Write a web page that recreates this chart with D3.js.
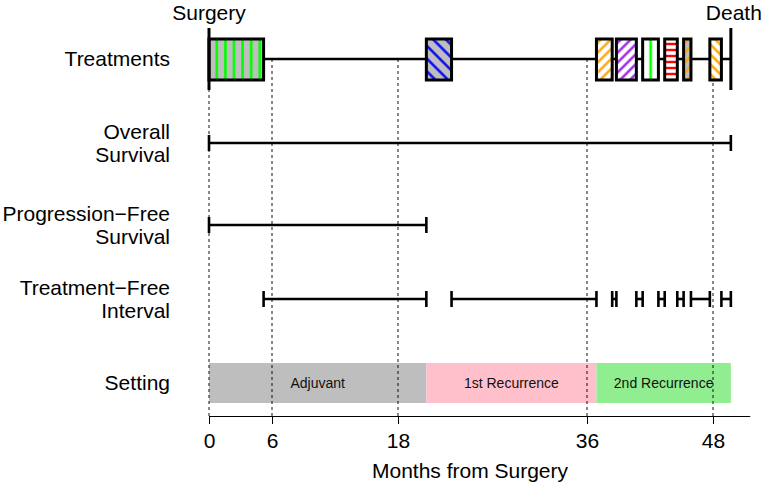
<!DOCTYPE html>
<html><head><meta charset="utf-8">
<script src="https://cdn.jsdelivr.net/npm/d3@7"></script>
<style>body{margin:0;background:#fff}svg{display:block}text{font-family:"Liberation Sans",Arial,sans-serif}</style>
</head><body><svg id="c" width="764" height="490"></svg>
<script>
// ---------------- data ----------------
const tickValues = [0, 6, 18, 36, 48];
const rowLabels = [["Treatments"], ["Overall", "Survival"], ["Progression\u2212Free", "Survival"], ["Treatment\u2212Free", "Interval"], ["Setting"]];
const deathMonth = 49.7;
const treatStart = [0, 20.7, 36.9, 38.8, 41.3, 43.4, 45.2, 47.7];
const treatEnd   = [5.2, 23.1, 38.4, 40.7, 42.8, 44.6, 45.9, 48.8];
const osInterval = [0, 49.7];
const pfsInterval = [0, 20.7];
const tfiStart = [5.2, 23.1, 38.4, 40.7, 42.8, 44.6, 45.9, 48.8];
const tfiEnd   = [20.7, 36.9, 38.8, 41.3, 43.4, 45.2, 47.7, 49.7];
const settingNames = ["Adjuvant", "1st Recurrence", "2nd Recurrence"];
const settingStart = [0, 20.7, 36.9];
const settingEnd   = [20.7, 36.9, 49.7];

// ---------------- styles ----------------
const treatStyle = [
  {fill: "#bebebe", color: "#00ff00", angle: 0,   sp: 8.6, w: 2.6, off: 3.5},
  {fill: "#bebebe", color: "#0000ff", angle: -45, sp: 9,   w: 2.4, off: 0},
  {fill: "#ffffff", color: "#ffa500", angle: 45,  sp: 7,   w: 2.4, off: 0},
  {fill: "#ffffff", color: "#a020f0", angle: 45,  sp: 7,   w: 2.4, off: 0},
  {fill: "#ffffff", color: "#00ff00", angle: 0,   sp: 30,  w: 2.6, off: -7},
  {fill: "#ffffff", color: "#ff0000", angle: 90,  sp: 6,   w: 2.4, off: 2},
  {fill: "#bebebe", color: "#ffa500", angle: 45,  sp: 7,   w: 2.4, off: 0},
  {fill: "#ffffff", color: "#ffa500", angle: -45, sp: 7,   w: 2.4, off: 0}
];
const settingColors = ["#bebebe", "#ffc0cb", "#90ee90"];

// ---------------- layout ----------------
const svg = d3.select("#c");
const x = d3.scaleLinear().domain([0, 51.5]).range([209, 749.75]);
const rowY = d3.scaleOrdinal().domain([0,1,2,3,4]).range([59, 143, 225, 299, 383]);
const boxTop = 39, boxBot = 80;
const setTop = 363, setBot = 403;
const axisY = 416;
const labelX = 170;
const capH = 8;
const fs = 21;

const defs = svg.append("defs");

// setting rects
svg.selectAll("rect.setting").data(settingNames).join("rect")
  .attr("x", (d,i) => x(settingStart[i]))
  .attr("width", (d,i) => x(settingEnd[i]) - x(settingStart[i]))
  .attr("y", setTop).attr("height", setBot - setTop)
  .attr("fill", (d,i) => settingColors[i]);
svg.selectAll("text.setting").data(settingNames).join("text")
  .attr("x", (d,i) => (x(settingStart[i]) + x(settingEnd[i])) / 2)
  .attr("y", (setTop + setBot) / 2 + 5)
  .attr("text-anchor", "middle").attr("font-size", 14).attr("fill", "#111")
  .text(d => d);

// dashed reference lines
svg.selectAll("line.ref").data(tickValues).join("line")
  .attr("x1", d => x(d)).attr("x2", d => x(d))
  .attr("y1", rowY(0)).attr("y2", axisY)
  .attr("stroke", "#111").attr("stroke-width", 1).attr("stroke-dasharray", "3,3");

// treatment baseline
svg.append("line").attr("x1", x(0)).attr("x2", x(deathMonth))
  .attr("y1", rowY(0)).attr("y2", rowY(0)).attr("stroke", "#000").attr("stroke-width", 2.6);

// treatment boxes
treatStart.forEach((s, i) => {
  const st = treatStyle[i];
  const x0 = x(s), x1 = x(treatEnd[i]);
  const id = "pat" + i;
  const p = defs.append("pattern").attr("id", id).attr("patternUnits", "userSpaceOnUse")
    .attr("width", st.sp).attr("height", 20)
    .attr("x", x0 + st.off).attr("y", 0)
    .attr("patternTransform", st.angle ? `rotate(${st.angle} ${x0} ${boxTop})` : null);
  p.append("line").attr("x1", st.sp/2).attr("x2", st.sp/2).attr("y1", -5).attr("y2", 25)
    .attr("stroke", st.color).attr("stroke-width", st.w);
  if (st.angle === 90) {
    p.attr("patternTransform", null).attr("width", 20).attr("height", st.sp).attr("x", 0).attr("y", boxTop + st.off);
    p.select("line").attr("x1", -5).attr("x2", 25).attr("y1", st.sp/2).attr("y2", st.sp/2);
  }
  svg.append("rect").attr("x", x0).attr("y", boxTop).attr("width", x1 - x0).attr("height", boxBot - boxTop)
    .attr("fill", st.fill);
  svg.append("rect").attr("x", x0).attr("y", boxTop).attr("width", x1 - x0).attr("height", boxBot - boxTop)
    .attr("fill", `url(#${id})`).attr("stroke", "#000").attr("stroke-width", 3);
});

// surgery and death lines
[0, deathMonth].forEach(m => {
  svg.append("line").attr("x1", x(m)).attr("x2", x(m)).attr("y1", 28).attr("y2", 90)
    .attr("stroke", "#000").attr("stroke-width", 3);
});
svg.append("text").attr("x", x(0)).attr("y", 20).attr("text-anchor", "middle").attr("font-size", fs).text("Surgery");
svg.append("text").attr("x", x(deathMonth) + 3).attr("y", 20).attr("text-anchor", "middle").attr("font-size", fs).text("Death");

// interval drawing helper
function intervals(starts, ends, y) {
  const g = svg.append("g").attr("stroke", "#000").attr("stroke-width", 2.6);
  starts.forEach((s, i) => {
    const a = x(s), b = x(ends[i]);
    g.append("line").attr("x1", a).attr("x2", b).attr("y1", y).attr("y2", y);
    g.append("line").attr("x1", a).attr("x2", a).attr("y1", y - capH).attr("y2", y + capH);
    g.append("line").attr("x1", b).attr("x2", b).attr("y1", y - capH).attr("y2", y + capH);
  });
}
intervals([osInterval[0]], [osInterval[1]], rowY(1));
intervals([pfsInterval[0]], [pfsInterval[1]], rowY(2));
intervals(tfiStart, tfiEnd, rowY(3));

// row labels
rowLabels.forEach((lines, i) => {
  const t = svg.append("text").attr("text-anchor", "end").attr("font-size", fs).attr("fill", "#000");
  const n = lines.length;
  lines.forEach((l, j) => {
    t.append("tspan").attr("x", labelX)
      .attr("y", rowY(i) + 7 + (j - (n - 1) / 2) * 23)
      .text(l);
  });
});

// axis
const axis = d3.axisBottom(x).tickValues(tickValues).tickSize(8).tickSizeOuter(0).tickPadding(9);
const ag = svg.append("g").attr("transform", `translate(0,${axisY})`).call(axis);
ag.select(".domain").attr("stroke", "#000").attr("stroke-width", 1);
ag.selectAll(".tick line").attr("stroke", "#000").attr("stroke-width", 1);
ag.selectAll(".tick text").attr("font-size", fs).attr("fill", "#000")
  .attr("font-family", "Liberation Sans, Arial, sans-serif");
svg.append("text").attr("x", 470).attr("y", 478)
  .attr("text-anchor", "middle").attr("font-size", fs).text("Months from Surgery");
</script></body></html>
